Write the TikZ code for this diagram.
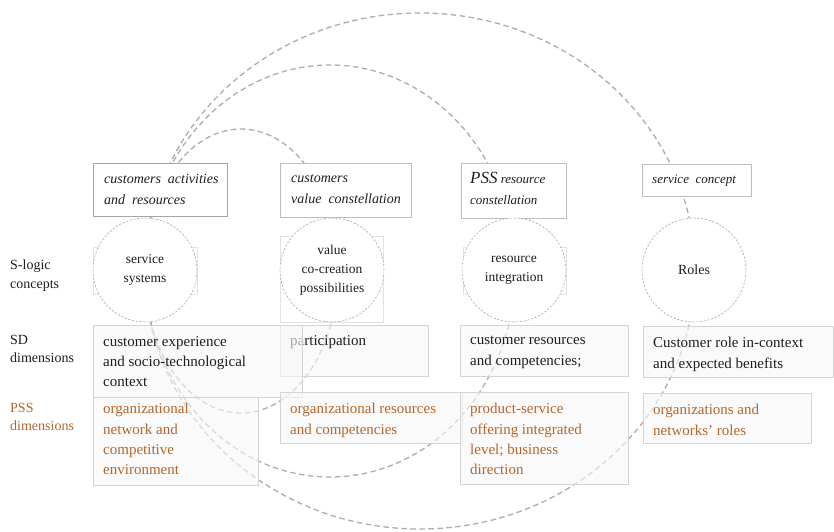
\documentclass[tikz,border=0pt]{standalone}
\usepackage{fontspec}
\setmainfont{Liberation Serif}
\definecolor{arcc}{HTML}{ADADAD}
\definecolor{ringc}{HTML}{A8A8A8}
\definecolor{orng}{HTML}{B5652B}
\definecolor{txt}{HTML}{1E1E1E}
\definecolor{bxc}{HTML}{D4D4D4}
\definecolor{topc}{HTML}{BDBDBD}
\definecolor{faint}{HTML}{E2E2E2}
\begin{document}
\begin{tikzpicture}[x=1pt,y=-1pt,
  loopline/.style={draw=arcc, line width=1.3pt, dash pattern=on 5.5pt off 3.5pt},
  ring/.style={circle, draw=ringc, fill=white, line width=0.6pt, dash pattern=on 2.2pt off 1.6pt, minimum size=104pt, inner sep=0pt},
  topbox/.style={draw=topc, fill=white, line width=0.8pt},
  cellbox/.style={draw=bxc, fill=black!3, fill opacity=0.62, line width=0.8pt},
  faintbox/.style={draw=faint, line width=0.7pt},
  toptext/.style={anchor=north west, inner sep=0pt, align=left, text=txt, font=\itshape\fontsize{14}{21}\selectfont},
  celltext/.style={anchor=north west, inner sep=0pt, align=left, text=txt, font=\fontsize{15}{20.4}\selectfont},
  psstext/.style={celltext, text=orng},
  ringtext/.style={align=center, text=txt, font=\fontsize{13.5}{19}\selectfont},
  sidetext/.style={anchor=north west, inner sep=0pt, align=left, text=txt, font=\fontsize{14}{18.5}\selectfont}]
\useasboundingbox (0,0) rectangle (834,531);
\fill[white] (0,0) rectangle (834,531);

% faint frames behind the circles
\draw[faintbox] (93,247) rectangle (197,294);
\draw[faintbox] (280,236) rectangle (383,322);
\draw[faintbox] (463,247) rectangle (566,294);

% dashed loops
\draw[loopline] (420,271) ellipse [x radius=275, y radius=258];
\draw[loopline] (330,271) ellipse [x radius=185, y radius=206];
\draw[loopline] (241,271) ellipse [x radius=97, y radius=142];

% top boxes
\draw[topbox, draw=black!35] (93,163) rectangle (227,216);
\draw[topbox] (280,163) rectangle (411,217);
\draw[topbox] (461,163) rectangle (566,218);
\draw[topbox] (642,164) rectangle (751,196);

% circles
\node[ring] (c1) at (145,270) {};
\node[ring] (c2) at (332,270) {};
\node[ring] (c3) at (514,270) {};
\node[ring] (c4) at (694,270) {};

% SD / PSS cells
\draw[cellbox] (280,325) rectangle (428,376);
\node[celltext] (sd2) at (290,335) {participation};
\draw[cellbox] (93,325) rectangle (302,397);
\draw[cellbox] (460,325) rectangle (628,376);
\draw[cellbox] (643,326) rectangle (833,377);
\draw[cellbox] (93,397) rectangle (258,485);
\draw[cellbox] (280,392) rectangle (462,443);
\draw[cellbox] (460,392) rectangle (628,484);
\draw[cellbox] (643,393) rectangle (811,443);

% top box texts
\node[toptext] (ta) at (104,174) {customers\ \ activities\\and\ \ resources};
\node[toptext] (tb) at (291,174) {customers\\value\ \ constellation};
\node[toptext, font=\itshape\fontsize{13}{21}\selectfont] (tc) at (470,172) {{\fontsize{17}{21}\selectfont PSS} resource\\constellation};
\node[toptext, font=\itshape\fontsize{13}{21}\selectfont] (td) at (652,175) {service\ \ concept};

% circle texts
\node[ringtext] (r1) at (c1) {service\\systems};
\node[ringtext] (r2) at (c2) {value\\co-creation\\possibilities};
\node[ringtext] (r3) at (c3) {resource\\integration};
\node[ringtext, font=\fontsize{14}{19}\selectfont] (r4) at (c4) {Roles};

% side labels
\node[sidetext] (l1) at (10,260) {S-logic\\concepts};
\node[sidetext] (l2) at (10,335) {SD\\dimensions};
\node[sidetext, text=orng] (l3) at (10,403) {PSS\\dimensions};

% cell texts
\node[celltext] (sd1) at (103,336) {customer experience\\and socio-technological\\context};
\node[celltext] (sd3) at (470,336) {customer resources\\and competencies;};
\node[celltext] (sd4) at (653,337) {Customer role in-context\\and expected benefits};
\node[psstext] (p1) at (103,403) {organizational\\network and\\competitive\\environment};
\node[psstext] (p2) at (290,403) {organizational resources\\and competencies};
\node[psstext] (p3) at (470,403) {product-service\\offering integrated\\level; business\\direction};
\node[psstext] (p4) at (653,404) {organizations and\\networks’ roles};
\end{tikzpicture}
\end{document}
